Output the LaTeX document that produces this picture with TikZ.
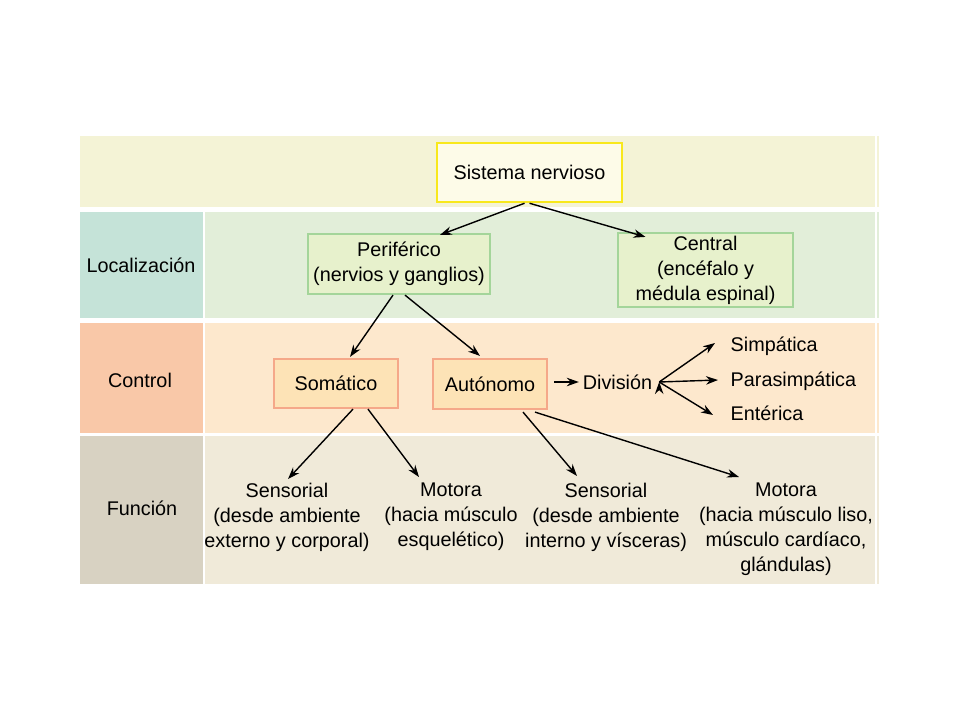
\documentclass[tikz,border=0pt]{standalone}
\usepackage{fontspec}
\setmainfont{Liberation Sans}
\usetikzlibrary{arrows.meta}

\definecolor{bandtop}{HTML}{F4F3D6}
\definecolor{loccell}{HTML}{C5E3D8}
\definecolor{locband}{HTML}{E2EED9}
\definecolor{ctrlcell}{HTML}{F9C8A8}
\definecolor{ctrlband}{HTML}{FDE8CD}
\definecolor{funcell}{HTML}{D8D2C2}
\definecolor{funband}{HTML}{F0EAD9}
\definecolor{snfill}{HTML}{FDFBE8}
\definecolor{sndraw}{HTML}{F8E81C}
\definecolor{grfill}{HTML}{E7F1CC}
\definecolor{grdraw}{HTML}{A4D59A}
\definecolor{orfill}{HTML}{FDE3B6}
\definecolor{ordraw}{HTML}{F5A889}

\tikzset{
	box/.style={draw, align=center, inner sep=0pt},
	topbox/.style={box, fill=snfill, draw=sndraw, line width=2.5pt},
	locbox/.style={box, fill=grfill, draw=grdraw, line width=2.2pt},
	ctrlbox/.style={box, fill=orfill, draw=ordraw, line width=2.2pt},
	fn/.style={align=center, anchor=north, inner sep=3pt},
	side/.style={anchor=west, inner sep=3pt, text height=14pt, text depth=0pt}
}

\begin{document}
\begin{tikzpicture}[x=1pt, y=-1pt, font=\fontsize{19.8}{25}\selectfont,
		>={Stealth[length=12pt, width=8.5pt]}, line width=1.4pt]
		\useasboundingbox[fill=white] (0,0) rectangle (960,720);

		% bands
		\fill[bandtop] (80,136) rectangle (875,207);
		\fill[loccell] (80,212) rectangle (203,318);
		\fill[locband] (205,212) rectangle (875,318);
		\fill[ctrlcell] (80,323) rectangle (203,433);
		\fill[ctrlband] (205,323) rectangle (875,433);
		\fill[funcell] (80,436) rectangle (203,584);
		\fill[funband] (205,436) rectangle (875,584);
		\fill[bandtop] (877,136) rectangle (879,207);
		\fill[locband] (877,212) rectangle (879,318);
		\fill[ctrlband] (877,323) rectangle (879,433);
		\fill[funband] (877,436) rectangle (879,584);

		\node (loc) at (141,265) {Localización};
		\node (ctrl) at (140,380) {Control};
		\node (fun) at (142,508) {Función};

		% boxes
		\node[topbox, minimum width=185pt, minimum height=59pt] (sn) at (529.5,172.5) {Sistema nervioso};
		\node[locbox, minimum width=182pt, minimum height=60pt] (per) at (399,264) {Periférico\\(nervios y ganglios)};
		\node[locbox, minimum width=175pt, minimum height=74pt] (cen) at (705.5,270) {Central\\(encéfalo y\\médula espinal)};
		\node[ctrlbox, minimum width=124pt, minimum height=49pt] (som) at (336,383.5) {Somático};
		\node[ctrlbox, minimum width=114pt, minimum height=50pt] (aut) at (490,384) {Autónomo};

		\node (div) at (617.5,382) {División};
		\node[side] (simp) at (727,344) {Simpática};
		\node[side] (para) at (727,379) {Parasimpática};
		\node[side] (ent) at (727,413) {Entérica};

		\node[fn] (sen1) at (287,479) {Sensorial\\(desde ambiente\\externo y corporal)};
		\node[fn] (mot1) at (451,479) {Motora\\(hacia músculo\\esquelético)};
		\node[fn] (sen2) at (606,479) {Sensorial\\(desde ambiente\\interno y vísceras)};
		\node[fn] (mot2) at (786,479) {Motora\\(hacia músculo liso,\\músculo cardíaco,\\glándulas)};

		% connectors
		\draw[->] ([xshift=-5pt]sn.south) edge ([xshift=41pt, yshift=-2pt]per.north)
				  (sn.south) edge ([xshift=-60pt, yshift=-5pt]cen.north)
				  ([xshift=-6pt]per.south) edge ([xshift=14pt, yshift=1pt]som.north)
				  ([xshift=6pt]per.south) edge ([xshift=-10pt, yshift=2pt]aut.north)
				  ([xshift=17pt]som.south) edge ([xshift=1pt]sen1.north)
				  ([xshift=32pt]som.south) edge ([xshift=-32pt, yshift=2pt]mot1.north)
				  ([xshift=33pt, yshift=-2pt]aut.south) edge ([xshift=-29pt, yshift=3pt]sen2.north)
				  ([xshift=45pt, yshift=-2pt]aut.south) edge ([xshift=-47pt, yshift=2pt]mot2.north)
				  ([xshift=6pt, yshift=2pt]aut.east) edge (div.west)
				  ([xshift=3pt]div.east) edge ([xshift=-12pt, yshift=1pt]simp.west)
				  ([xshift=3pt]div.east) edge ([xshift=-9pt, yshift=-1pt]para.west)
				  ([xshift=3pt]div.east) edge ([xshift=-14pt, yshift=-2pt]ent.west);
	\end{tikzpicture}
\end{document}
